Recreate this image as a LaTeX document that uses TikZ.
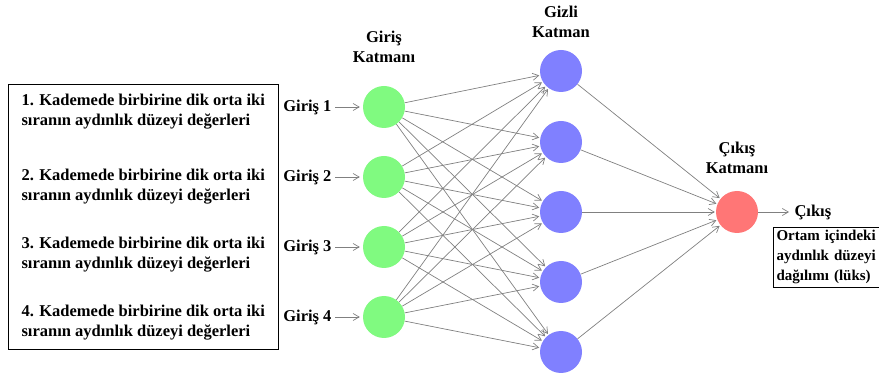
\documentclass[tikz,border=0pt]{standalone}
\usepackage{fontspec}
\setmainfont{Liberation Serif}
\usetikzlibrary{arrows.meta}
\definecolor{nngreen}{RGB}{128,250,128}
\definecolor{nnblue}{RGB}{128,128,255}
\definecolor{nnred}{RGB}{255,118,118}

\begin{document}
\begin{tikzpicture}[x=1pt,y=-1pt,font=\bfseries\fontsize{16.5}{20}\selectfont,
  neuron/.style={circle,minimum size=42pt,inner sep=0pt},
  link/.style={-{Straight Barb[length=6pt,width=7pt]},gray,line width=0.7pt,shorten >=1pt}]
  \useasboundingbox (0,0) rectangle (879,379);
  \clip (0,0) rectangle (879,379);
  % layers
  \foreach \i/\y in {1/107,2/177,3/247,4/317}
    \node[neuron,fill=nngreen] (in\i) at (384,\y) {};
  \foreach \j/\y in {1/71,2/142,3/212,4/282,5/352}
    \node[neuron,fill=nnblue] (hid\j) at (561,\y) {};
  \node[neuron,fill=nnred] (out) at (737,212) {};
  % layer titles
  \node[align=center] (tin) at (384,47) {Giriş\\Katmanı};
  \node[align=center] (thid) at (561,22) {Gizli\\Katman};
  \node[align=center] (tout) at (737,158) {Çıkış\\Katmanı};
  % connections
  \foreach \i in {1,...,4}
    \foreach \j in {1,...,5}
      \draw[link] (in\i) -- (hid\j);
  \foreach \j in {1,...,5}
    \draw[link] (hid\j) -- (out);
  % inputs
  \foreach \i/\y in {1/107,2/177,3/247,4/317} {
    \node[anchor=east] (gin\i) at (335,\y) {Giriş \i};
    \draw[link,shorten >=3pt] (gin\i) -- (in\i);
  }
  \node[anchor=west,align=left] (t1) at (18,112) {1. Kademede birbirine dik orta iki\\sıranın aydınlık düzeyi değerleri};
  \node[anchor=west,align=left] (t2) at (18,187) {2. Kademede birbirine dik orta iki\\sıranın aydınlık düzeyi değerleri};
  \node[anchor=west,align=left] (t3) at (18,255) {3. Kademede birbirine dik orta iki\\sıranın aydınlık düzeyi değerleri};
  \node[anchor=west,align=left] (t4) at (18,323) {4. Kademede birbirine dik orta iki\\sıranın aydınlık düzeyi değerleri};
  \draw[line width=1pt] (8,85) rectangle (278,350);
  % output
  \node[anchor=west] (cik) at (791,212) {Çıkış};
  \draw[link,shorten >=2pt] (out) -- (cik);
  \node[draw,line width=1pt,anchor=north west,align=left,inner sep=3pt,
        text width=104pt,font=\bfseries\fontsize{15}{20}\selectfont] (res) at (773,227) {Ortam içindeki\\aydınlık düzeyi\\dağılımı (lüks)};
\end{tikzpicture}
\end{document}
